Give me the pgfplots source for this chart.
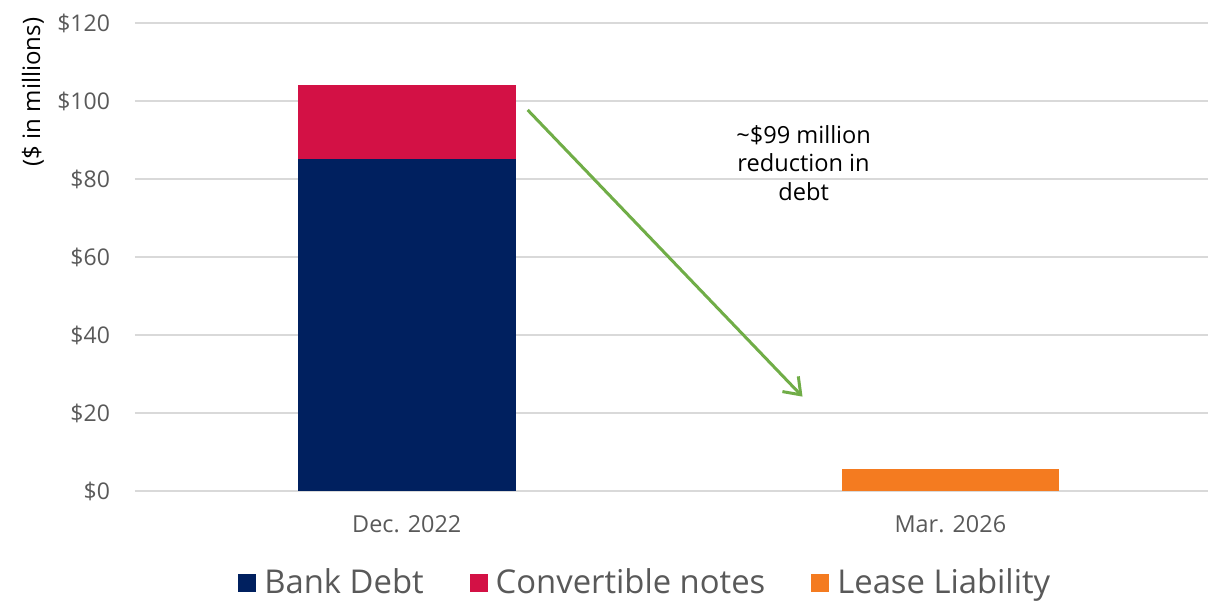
\documentclass[border=0pt]{standalone}
\usepackage{pgfplots}
\pgfplotsset{compat=1.18}
\usepackage{fontspec}
\setmainfont{Open Sans}
\usetikzlibrary{arrows.meta}
\definecolor{bank}{HTML}{00205F}
\definecolor{conv}{HTML}{D31145}
\definecolor{lease}{HTML}{F47B20}
\definecolor{gridc}{HTML}{D9D9D9}
\definecolor{txtc}{HTML}{595959}
\definecolor{arrowc}{HTML}{70AD47}
\begin{document}
\begin{tikzpicture}
\begin{axis}[
  at={(0,0)}, anchor=south west,
  scale only axis, width=536.5pt, height=234pt,
  ybar stacked, bar width=0.4,
  xmin=-0.5, xmax=1.474, ymin=0, ymax=120,
  xtick={0,1}, xticklabels={Dec. 2022, Mar. 2026},
  ytick={0,20,...,120},
  yticklabel={\$\pgfmathprintnumber{\tick}},
  /pgf/number format/assume math mode=true,
  major tick length=0pt,
  axis line style={draw=none},
  ymajorgrids, grid style={gridc, line width=0.75pt},
  tick label style={font=\fontsize{11.5}{13}\selectfont, text=txtc},
  yticklabel style={anchor=east, xshift=-9pt},
  xticklabel style={anchor=center, yshift=-16.5pt, font=\fontsize{11.7}{13}\selectfont},
  legend columns=-1,
  legend style={draw=none, at={(0.4765,-0.1966)}, anchor=center,
    font=\fontsize{16.4}{18}\selectfont, text=txtc,
    /tikz/every odd column/.append style={column sep=2pt},
    /tikz/every even column/.append style={column sep=21pt},
    inner sep=0pt, outer sep=0pt},
  legend image code/.code={\fill[#1] (0pt,-4.5pt) rectangle (9pt,4.5pt);},
  clip=false,
]
\addplot[fill=bank, draw=none] coordinates {(0,85) (1,0)};
\addlegendentry{Bank Debt}
\addplot[fill=conv, draw=none] coordinates {(0,19.1) (1,0)};
\addlegendentry{Convertible notes}
\addplot[fill=lease, draw=none] coordinates {(0,0) (1,5.6)};
\addlegendentry{Lease Liability}
\draw[arrowc, line width=1.5pt, -{Straight Barb[length=7.5pt, width=11pt, line width=1.5pt]}] (axis cs:0.2224,97.7) -- (axis cs:0.728,24.2);
\node[align=center, font=\fontsize{11.8}{14.25}\selectfont, text=black] at (axis cs:0.73,84.1) {\textasciitilde\$99 million\\reduction in\\debt};
\node[rotate=90, font=\fontsize{12}{14}\selectfont, text=black] at ([xshift=-51pt]rel axis cs:0,0.8526) {(\$ in millions)};
\end{axis}
\pgfresetboundingbox
\useasboundingbox (-67.5pt,-54.5pt) rectangle (536.5pt,245.5pt);
\end{tikzpicture}
\end{document}
